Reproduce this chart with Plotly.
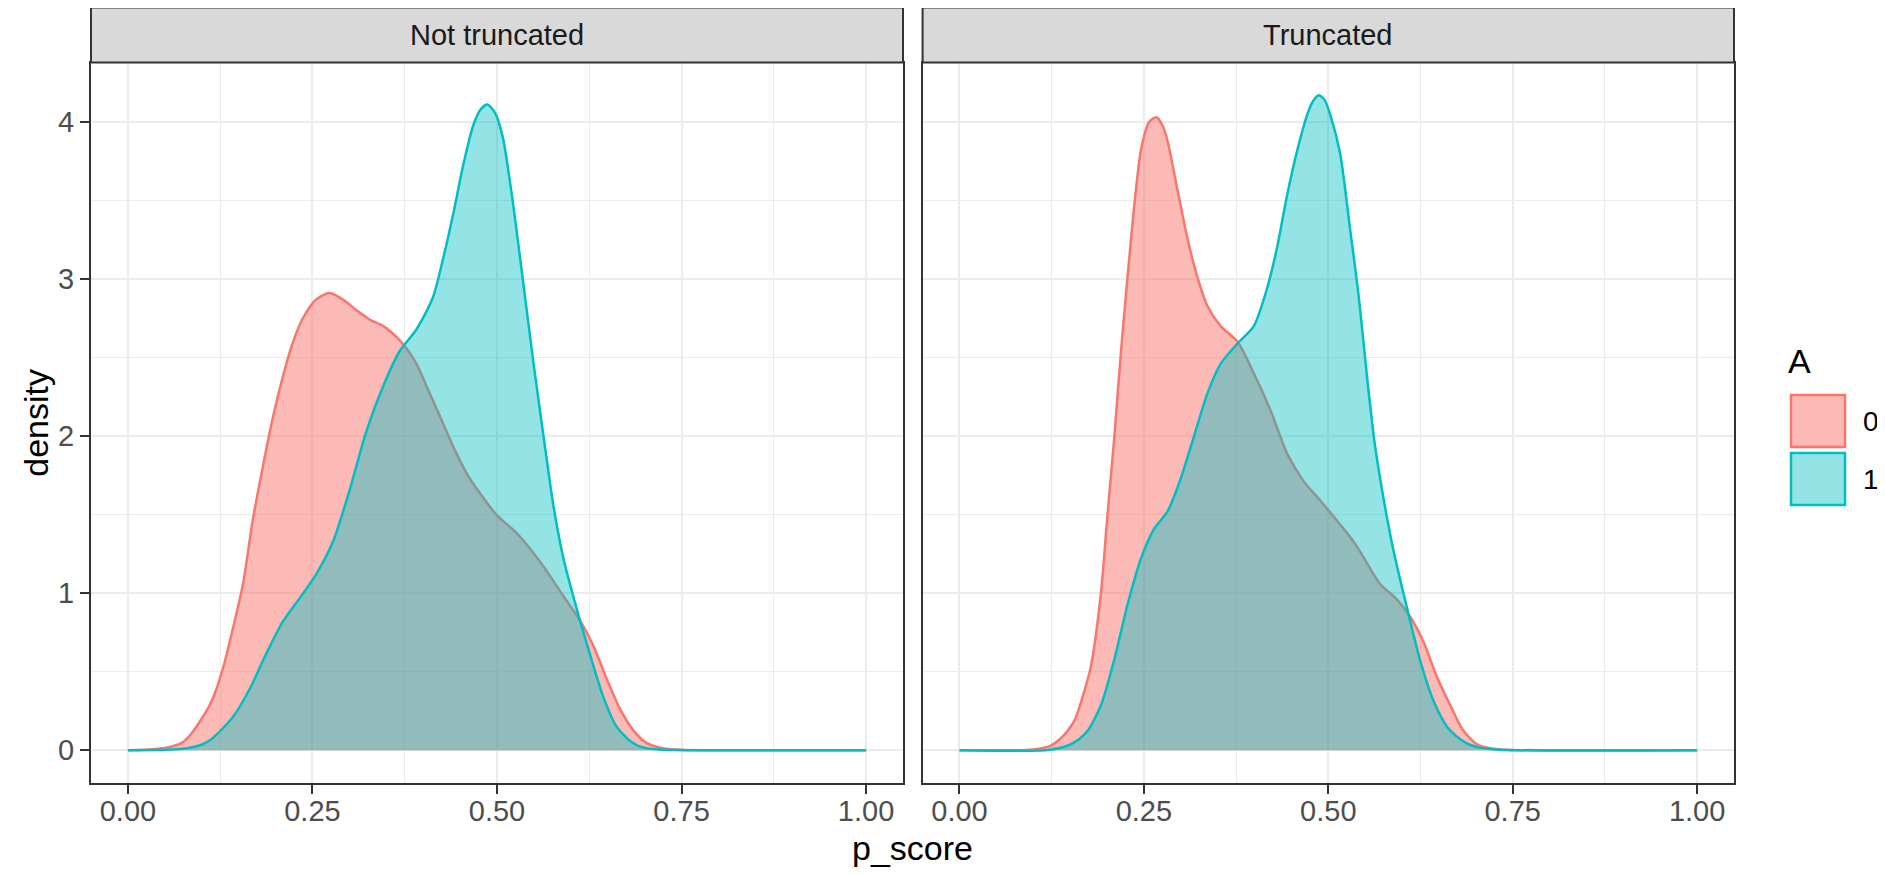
import plotly.graph_objects as go

# ---------------- data ----------------
panels = ["Not truncated", "Truncated"]
groups = ["0", "1"]

nt_a0_x = [0.0, 0.03, 0.05, 0.062, 0.074, 0.085, 0.097, 0.11, 0.12, 0.131, 0.142, 0.156, 0.169,
           0.183, 0.196, 0.21, 0.223, 0.237, 0.255, 0.273, 0.291, 0.31, 0.328, 0.346, 0.364,
           0.377, 0.391, 0.409, 0.427, 0.445, 0.463, 0.481, 0.499, 0.527, 0.563, 0.59, 0.612,
           0.631, 0.649, 0.667, 0.685, 0.703, 0.726, 0.75, 0.8, 1.0]
nt_a0_y = [0.0, 0.005, 0.015, 0.027, 0.05, 0.1, 0.18, 0.28, 0.39, 0.56, 0.77, 1.06, 1.46,
           1.81, 2.11, 2.38, 2.59, 2.75, 2.87, 2.91, 2.87, 2.80, 2.74, 2.70, 2.63,
           2.56, 2.46, 2.27, 2.08, 1.89, 1.73, 1.61, 1.50, 1.38, 1.17, 0.98, 0.83,
           0.66, 0.45, 0.26, 0.125, 0.045, 0.012, 0.003, 0.0, 0.0]

nt_a1_x = [0.0, 0.05, 0.075, 0.097, 0.11, 0.12, 0.142, 0.165, 0.187, 0.21, 0.233, 0.255, 0.278,
           0.30, 0.323, 0.346, 0.368, 0.391, 0.413, 0.427, 0.441, 0.454, 0.468, 0.478, 0.487,
           0.497, 0.508, 0.522, 0.536, 0.549, 0.563, 0.576, 0.59, 0.608, 0.626, 0.644, 0.662,
           0.68, 0.693, 0.707, 0.74, 1.0]
nt_a1_y = [0.0, 0.003, 0.01, 0.03, 0.06, 0.10, 0.21, 0.39, 0.61, 0.82, 0.97, 1.12, 1.33,
           1.65, 2.03, 2.32, 2.54, 2.68, 2.88, 3.13, 3.42, 3.72, 3.98, 4.08, 4.11,
           4.06, 3.90, 3.47, 2.96, 2.48, 2.0, 1.57, 1.22, 0.90, 0.61, 0.34, 0.15,
           0.06, 0.025, 0.01, 0.002, 0.0]

t_a0_x = [0.0, 0.09, 0.11, 0.124, 0.136, 0.147, 0.157, 0.165, 0.178, 0.192, 0.20, 0.21, 0.219,
          0.228, 0.237, 0.246, 0.257, 0.267, 0.275, 0.282, 0.295, 0.309, 0.322, 0.336, 0.354,
          0.377, 0.399, 0.422, 0.444, 0.467, 0.489, 0.512, 0.534, 0.545, 0.570, 0.593, 0.611,
          0.629, 0.647, 0.665, 0.683, 0.701, 0.724, 0.75, 0.8, 1.0]
t_a0_y = [0.0, 0.002, 0.012, 0.03, 0.07, 0.125, 0.2, 0.31, 0.53, 1.01, 1.46, 2.0, 2.54,
          3.02, 3.47, 3.82, 4.0, 4.03, 3.98, 3.88, 3.58, 3.26, 3.02, 2.83, 2.70,
          2.60, 2.40, 2.16, 1.89, 1.71, 1.59, 1.46, 1.33, 1.25, 1.06, 0.96, 0.85,
          0.69, 0.47, 0.29, 0.125, 0.04, 0.01, 0.002, 0.0, 0.0]

t_a1_x = [0.0, 0.12, 0.147, 0.162, 0.174, 0.192, 0.21, 0.228, 0.246, 0.264, 0.282, 0.30, 0.318,
          0.336, 0.354, 0.377, 0.399, 0.417, 0.431, 0.444, 0.458, 0.471, 0.479, 0.487, 0.495,
          0.503, 0.516, 0.53, 0.541, 0.552, 0.563, 0.575, 0.588, 0.607, 0.624, 0.643, 0.661,
          0.679, 0.692, 0.706, 0.74, 1.0]
t_a1_y = [0.0, 0.002, 0.03, 0.07, 0.125, 0.29, 0.58, 0.93, 1.22, 1.41, 1.52, 1.73, 2.0,
          2.27, 2.46, 2.59, 2.70, 2.94, 3.21, 3.53, 3.82, 4.04, 4.13, 4.17, 4.14,
          4.04, 3.80, 3.3, 2.9, 2.4, 1.95, 1.6, 1.28, 0.90, 0.58, 0.31, 0.15,
          0.07, 0.035, 0.015, 0.002, 0.0]

x_ticks = [0.0, 0.25, 0.5, 0.75, 1.0]
x_tick_labels = ["0.00", "0.25", "0.50", "0.75", "1.00"]
y_ticks = [0, 1, 2, 3, 4]
y_tick_labels = ["0", "1", "2", "3", "4"]

# ---------------- styling ----------------
OFF = 8                      # default body margin of the html page
W, H = 1885 - OFF, 875 - OFF
RED, TEAL = "#F8766D", "#00BFC4"
RED_FILL, TEAL_FILL = "rgba(248,118,109,0.5)", "rgba(0,191,196,0.42)"
FONT = "Liberation Sans, Arial, Helvetica, sans-serif"


def px_x(p):
    return (p - OFF) / W


def px_y(p):
    return 1 - (p - OFF) / H


L1, R1 = 91, 903
L2, R2 = 922.6, 1734
TOP, BOT = 62.5, 783
STRIP_TOP = 7.5

fig = go.Figure()

series = [
    (nt_a0_x, nt_a0_y, RED, RED_FILL, "x", "y"),
    (nt_a1_x, nt_a1_y, TEAL, TEAL_FILL, "x", "y"),
    (t_a0_x, t_a0_y, RED, RED_FILL, "x2", "y2"),
    (t_a1_x, t_a1_y, TEAL, TEAL_FILL, "x2", "y2"),
]
for xs, ys, c, fc, xa, ya in series:
    fig.add_trace(go.Scatter(
        x=xs, y=ys, mode="lines", fill="tozeroy", fillcolor=fc,
        line=dict(color=c, width=2.5, shape="spline", smoothing=0.7),
        xaxis=xa, yaxis=ya, showlegend=False, hoverinfo="skip"))

xr = [-0.05, 1.05]
yr = [-0.2085, 4.378]
grid = "#EBEBEB"
axis_common = dict(
    showline=True, linecolor="#333333", linewidth=2, mirror=True,
    showgrid=True, gridcolor=grid, gridwidth=2.4, zeroline=False,
    tickfont=dict(family=FONT, size=29, color="#4D4D4D"),
)
xminor = dict(tickvals=[0.125, 0.375, 0.625, 0.875], showgrid=True,
              gridcolor=grid, gridwidth=1.2, ticks="")
yminor = dict(tickvals=[0.5, 1.5, 2.5, 3.5], showgrid=True,
              gridcolor=grid, gridwidth=1.2, ticks="")

fig.update_layout(
    width=W, height=H,
    margin=dict(l=0, r=0, t=0, b=0),
    paper_bgcolor="white", plot_bgcolor="white",
    font=dict(family=FONT),
    xaxis=dict(domain=[px_x(L1), px_x(R1)], range=xr, tickvals=x_ticks, ticktext=x_tick_labels,
               ticks="outside", ticklen=9, tickwidth=2, tickcolor="#333333", anchor="y",
               ticklabelstandoff=-8, minor=xminor, **axis_common),
    xaxis2=dict(domain=[px_x(L2), px_x(R2)], range=xr, tickvals=x_ticks, ticktext=x_tick_labels,
                ticks="outside", ticklen=9, tickwidth=2, tickcolor="#333333", anchor="y2",
                ticklabelstandoff=-8, minor=xminor, **axis_common),
    yaxis=dict(domain=[px_y(BOT), px_y(TOP)], range=yr, tickvals=y_ticks, ticktext=y_tick_labels,
               ticks="outside", ticklen=9, tickwidth=2, tickcolor="#333333", anchor="x",
               minor=yminor, **axis_common),
    yaxis2=dict(domain=[px_y(BOT), px_y(TOP)], range=yr, tickvals=y_ticks, showticklabels=False,
                ticks="", anchor="x2", minor=yminor, **axis_common),
)

shapes = []
annotations = []
# facet strips
for (l, r), name in zip([(L1, R1), (L2, R2)], panels):
    shapes.append(dict(type="rect", xref="paper", yref="paper",
                       x0=px_x(l), x1=px_x(r), y0=px_y(TOP), y1=px_y(STRIP_TOP),
                       fillcolor="#D9D9D9", line=dict(color="#333333", width=2)))
    annotations.append(dict(xref="paper", yref="paper", x=px_x((l + r) / 2),
                            y=px_y((TOP + STRIP_TOP) / 2), text=name, showarrow=False,
                            xanchor="center", yanchor="middle",
                            font=dict(family=FONT, size=29, color="#1A1A1A")))

# axis titles
annotations.append(dict(xref="paper", yref="paper", x=px_x((L1 + R2) / 2), y=px_y(848),
                        text="p_score", showarrow=False, xanchor="center", yanchor="middle",
                        font=dict(family=FONT, size=34, color="black")))
annotations.append(dict(xref="paper", yref="paper", x=px_x(36), y=px_y((TOP + BOT) / 2),
                        text="density", showarrow=False, textangle=-90,
                        xanchor="center", yanchor="middle",
                        font=dict(family=FONT, size=34, color="black")))

# legend (manual keys)
annotations.append(dict(xref="paper", yref="paper", x=px_x(1786), y=px_y(361), text="A",
                        showarrow=False, xanchor="left", yanchor="middle",
                        font=dict(family=FONT, size=34, color="black")))
key_rows = [(393.5, 448.5), (451.5, 506.5)]
for (t, b), g, c, fc in zip(key_rows, groups, [RED, TEAL], [RED_FILL, TEAL_FILL]):
    shapes.append(dict(type="rect", xref="paper", yref="paper",
                       x0=px_x(1791), x1=px_x(1845), y0=px_y(b - 1.5), y1=px_y(t + 1.5),
                       fillcolor=fc, line=dict(color=c, width=2.5)))
    annotations.append(dict(xref="paper", yref="paper", x=px_x(1861), y=px_y((t + b) / 2),
                            text=g, showarrow=False, xanchor="left", yanchor="middle",
                            font=dict(family=FONT, size=28, color="black")))

fig.update_layout(shapes=shapes, annotations=annotations)
fig.write_html("out.html")
